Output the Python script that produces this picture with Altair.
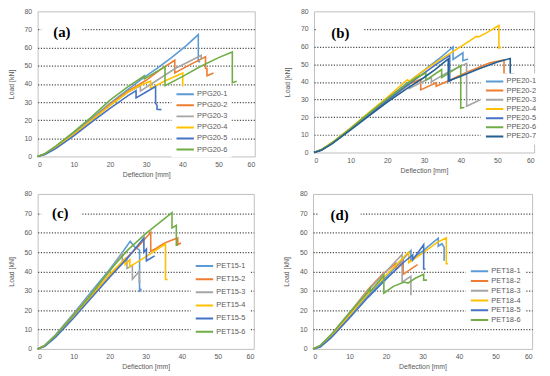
import altair as alt
import pandas as pd

FONT = "Liberation Sans"
LEG_FONT = "Liberation Sans Narrow, Liberation Sans"
COLORS = ["#5B9BD5", "#ED7D31", "#A5A5A5", "#FFC000", "#4472C4", "#70AD47", "#255E91"]
X_TICKS = [0, 10, 20, 30, 40, 50, 60]
Y_TICKS = [0, 10, 20, 30, 40, 50, 60, 70, 80]

# ---------------- Panel (a) ----------------
A_NAMES = ["PPG20-1", "PPG20-2", "PPG20-3", "PPG20-4", "PPG20-5", "PPG20-6"]
PPG20_1_x = [0, 2, 5, 10, 15, 20, 25, 29, 33, 37, 41, 44.4, 44.4, 44.9]
PPG20_1_y = [0, 1.4, 5.3, 12.8, 21, 29.3, 37, 43, 48.5, 54.5, 61, 67.2, 52.5, 52]
PPG20_2_x = [0, 2, 5, 10, 15, 20, 25, 30, 34, 37.9, 37.9, 42, 46.4, 46.4, 46.8, 46.8, 48.6]
PPG20_2_y = [0, 1.3, 5, 12.5, 20.5, 28.8, 36.2, 42, 48, 53, 46, 50.5, 55, 48.5, 48.5, 44.5, 46]
PPG20_3_x = [0, 2, 5, 10, 15, 20, 25, 28.4, 28.4, 33, 38, 42, 45.2, 45.2]
PPG20_3_y = [0, 1.3, 5, 12.3, 20.3, 28.3, 35.5, 39, 36, 42, 48.5, 52.5, 55.8, 53.5]
PPG20_4_x = [0, 2, 5, 10, 15, 20, 25, 28, 31.2, 31.2, 35, 40.1, 40.1]
PPG20_4_y = [0, 1.2, 4.8, 12, 20, 28, 35.5, 39, 41.5, 37.5, 41.5, 46, 37.5]
PPG20_5_x = [0, 2, 5, 10, 15, 20, 25, 27.2, 27.2, 30, 32.6, 32.6, 33, 33, 34.2]
PPG20_5_y = [0, 1, 4.3, 11.3, 19, 26.5, 33.5, 36.3, 32.3, 35.5, 38.5, 29.5, 28, 26, 25.8]
PPG20_6_x = [0, 2, 5, 10, 15, 20, 25, 29.5, 29.5, 35.2, 35.2, 40, 44.7, 50, 53.8, 53.8, 55]
PPG20_6_y = [0, 1.5, 5.7, 13.5, 22, 31, 38.5, 44.5, 42.8, 49.5, 39, 44, 49.3, 54.5, 57.6, 40.7, 41.5]

# ---------------- Panel (b) ----------------
B_NAMES = ["PPE20-1", "PPE20-2", "PPE20-3", "PPE20-4", "PPE20-5", "PPE20-6", "PPE20-7"]
PPE20_1_x = [0, 2, 5, 10, 15, 20, 25, 30, 34, 37.9, 37.9, 40.6, 40.6, 42]
PPE20_1_y = [0, 1.5, 5.5, 13.6, 22.2, 30.5, 38.8, 46.5, 53, 59.8, 52.7, 56.5, 52, 53]
PPE20_2_x = [0, 2, 5, 10, 15, 20, 25, 29.1, 29.1, 33.3, 33.3, 37, 41.5, 45, 48, 51.8, 51.8, 52.7]
PPE20_2_y = [0, 1.4, 5.4, 13.4, 21.8, 29.8, 38, 41.5, 35.5, 39.5, 37.5, 41, 45.3, 48.3, 50.8, 52.5, 44.3, 44.3]
PPE20_3_x = [0, 2, 5, 10, 15, 20, 24, 26, 26, 29, 32, 32, 36, 41.6, 41.6, 45.2]
PPE20_3_y = [0, 1.4, 5.3, 13.2, 21.3, 29, 35.5, 38.5, 36.3, 39.5, 42.5, 40, 45, 50.5, 26.2, 29.8]
PPE20_4_x = [0, 2, 5, 10, 15, 20, 25, 25.5, 26, 30, 35, 40, 44.3, 45, 47, 50.4, 50.4, 51]
PPE20_4_y = [0, 1.6, 5.8, 14, 22.8, 31.3, 40.5, 41.2, 40.3, 46.5, 53.5, 60, 65.8, 65.6, 67.8, 72, 59.2, 59.6]
PPE20_5_x = [0, 2, 5, 10, 15, 20, 25, 30, 33, 37, 37, 37.5]
PPE20_5_y = [0, 1.4, 5.3, 13.2, 21.5, 29.5, 37.5, 45, 49.5, 55, 40.5, 41]
PPE20_6_x = [0, 2, 5, 10, 15, 20, 25, 28, 30.5, 30.5, 34.8, 34.8, 40, 40, 41]
PPE20_6_y = [0, 1.5, 5.6, 13.7, 22.3, 30.5, 38.5, 42.5, 45, 41, 47, 42.5, 49.2, 25.2, 25.5]
PPE20_7_x = [0, 2, 5, 10, 15, 20, 25, 30, 33, 36.6, 36.6, 40, 45, 50, 53.5, 53.5, 54.6]
PPE20_7_y = [0, 1.2, 5, 12.8, 20.8, 28.5, 35.8, 42.5, 47, 53, 40.5, 43.2, 47.5, 51.3, 53.3, 44.3, 44.3]

# ---------------- Panel (c) ----------------
C_NAMES = ["PET15-1", "PET15-2", "PET15-3", "PET15-4", "PET15-5", "PET15-6"]
PET15_1_x = [0, 2, 5, 10, 15, 20, 23, 25.7, 27, 28.3, 28.3, 28.8]
PET15_1_y = [0, 1.8, 7.3, 18.3, 29.8, 41, 48.5, 55.5, 52.5, 51, 30, 31]
PET15_2_x = [0, 2, 5, 10, 15, 20, 25, 28, 31.4, 31.4, 33, 35, 37, 38.9, 38.9, 39.8]
PET15_2_y = [0, 1.6, 6.8, 17.3, 28, 38, 47.5, 53, 60.2, 50.5, 52, 54.5, 56, 57.3, 53.8, 54.7]
PET15_3_x = [0, 2, 5, 10, 15, 20, 23.5, 23.5, 24.8, 24.8, 26.3, 26.3, 28.2, 28.2, 28.6]
PET15_3_y = [0, 1.8, 7.2, 18, 29, 40, 49.5, 45.5, 47, 41.5, 43, 36, 40, 34.5, 35]
PET15_4_x = [0, 2, 5, 10, 15, 20, 24.3, 24.3, 25.6, 25.6, 30, 35.5, 35.5, 36.1]
PET15_4_y = [0, 1.6, 6.8, 17, 27.5, 38.5, 46.5, 43.5, 46, 42.5, 47.5, 54.3, 35.8, 35.8]
PET15_5_x = [0, 2, 5, 10, 15, 20, 25, 29.5, 29.5, 30.2, 30.2, 32.5]
PET15_5_y = [0, 1.3, 6, 16, 26.5, 37, 47, 57.3, 50, 51.5, 45.5, 48]
PET15_6_x = [0, 2, 5, 10, 15, 20, 25, 30, 34, 37.3, 37.3, 38.5, 38.5, 39]
PET15_6_y = [0, 1.7, 7, 17.5, 28.5, 40.5, 51, 59.5, 65.5, 70.4, 62.5, 63.8, 53.5, 53.8]

# ---------------- Panel (d) ----------------
D_NAMES = ["PET18-1", "PET18-2", "PET18-3", "PET18-4", "PET18-5", "PET18-6"]
PET18_1_x = [0, 2, 5, 10, 15, 20, 23.5, 26.8, 26.8, 30, 34.3, 34.3, 35.3, 35.9, 35.9]
PET18_1_y = [0, 1.3, 6.5, 17, 27.5, 37, 44, 50.8, 46, 50.5, 57.2, 53, 54.3, 52.5, 45.5]
PET18_2_x = [0, 2, 5, 10, 15, 19, 22.7, 22.7, 24.7, 24.7, 28.6]
PET18_2_y = [0, 1.6, 7.2, 18.5, 30.5, 38.5, 44.2, 41, 45.3, 38.5, 43.5]
PET18_3_x = [0, 2, 5, 10, 15, 20, 24.4, 24.4, 26.8, 26.8]
PET18_3_y = [0, 1.7, 7.5, 18.8, 30, 40, 48.8, 34.5, 37.5, 27.7]
PET18_4_x = [0, 2, 5, 10, 15, 20, 26.2, 26.2, 30, 34, 36.5, 36.5, 37]
PET18_4_y = [0, 1.4, 6.8, 17.5, 28.3, 38, 50, 44.5, 49.5, 55, 57.4, 44, 44]
PET18_5_x = [0, 2, 5, 10, 15, 20, 25, 27.3, 27.3, 30.3, 30.3, 30.8]
PET18_5_y = [0, 1, 5.8, 16, 26.5, 36, 45, 48.5, 46, 53.8, 41.3, 41.3]
PET18_6_x = [0, 2, 5, 10, 15, 15.7, 15.7, 17, 19.4, 19.4, 22, 25, 26, 28, 30.3, 30.3, 31.2]
PET18_6_y = [0, 1.8, 7.3, 18.5, 29.2, 31.5, 29.8, 32.5, 38, 28.8, 32.3, 34.5, 34, 36.5, 38.5, 35.5, 35.5]


def frame(names, xs, ys):
    rows = []
    for n, xv, yv in zip(names, xs, ys):
        for i, (a, b) in enumerate(zip(xv, yv)):
            rows.append({"series": n, "i": i, "x": a, "y": b})
    return pd.DataFrame(rows)


GRID_OP = {"condition": {"test": "datum.value == 0 || datum.value == 80", "value": 0}, "value": 1}


def panel(df, names, tag, tag_xy, box, leg, w, h):
    xs = alt.Scale(domain=[0, 60], nice=False)
    ys = alt.Scale(domain=[0, 80], nice=False)
    xax = alt.Axis(values=X_TICKS, title="Deflection [mm]", grid=False, labelOverlap=False)
    yax = alt.Axis(values=Y_TICKS, title="Load [kN]", grid=True, gridDash=[1.2, 1.6],
                   gridColor="#4d4d4d", gridWidth=1.2, gridOpacity=GRID_OP, labelOverlap=False)
    color = alt.Color(
        "series:N",
        scale=alt.Scale(domain=names, range=COLORS[: len(names)]),
        legend=alt.Legend(
            title=None, orient="none", legendX=leg[0], legendY=leg[1],
            fillColor="white", padding=4, symbolType="stroke", symbolSize=310,
            symbolStrokeWidth=2, clipHeight=8, rowPadding=leg[2],
            labelFontSize=7.5, labelColor="#595959", labelOffset=2, labelFont=LEG_FONT,
        ),
    )
    lines = alt.Chart(df).mark_line(strokeWidth=1.6).encode(
        x=alt.X("x:Q", scale=xs, axis=xax),
        y=alt.Y("y:Q", scale=ys, axis=yax),
        color=color,
        order="i:Q",
    )
    bdf = pd.DataFrame({"x": [box[0]], "x2": [box[1]], "y": [box[2]], "y2": [box[3]]})
    boxm = alt.Chart(bdf).mark_rect(fill="white").encode(
        x=alt.X("x:Q", scale=xs, axis=xax), x2="x2",
        y=alt.Y("y:Q", scale=ys, axis=yax), y2="y2",
    )
    tdf = pd.DataFrame({"x": [tag_xy[0]], "y": [tag_xy[1]], "t": [tag]})
    tagm = alt.Chart(tdf).mark_text(
        font="Liberation Serif", fontWeight="bold", fontSize=15, color="black",
        baseline="middle", align="center",
    ).encode(
        x=alt.X("x:Q", scale=xs, axis=xax),
        y=alt.Y("y:Q", scale=ys, axis=yax),
        text="t:N",
    )
    return alt.layer(lines, boxm, tagm).properties(width=w, height=h)


dfa = frame(A_NAMES, [PPG20_1_x, PPG20_2_x, PPG20_3_x, PPG20_4_x, PPG20_5_x, PPG20_6_x],
            [PPG20_1_y, PPG20_2_y, PPG20_3_y, PPG20_4_y, PPG20_5_y, PPG20_6_y])
dfb = frame(B_NAMES, [PPE20_1_x, PPE20_2_x, PPE20_3_x, PPE20_4_x, PPE20_5_x, PPE20_6_x, PPE20_7_x],
            [PPE20_1_y, PPE20_2_y, PPE20_3_y, PPE20_4_y, PPE20_5_y, PPE20_6_y, PPE20_7_y])
dfc = frame(C_NAMES, [PET15_1_x, PET15_2_x, PET15_3_x, PET15_4_x, PET15_5_x, PET15_6_x],
            [PET15_1_y, PET15_2_y, PET15_3_y, PET15_4_y, PET15_5_y, PET15_6_y])
dfd = frame(D_NAMES, [PET18_1_x, PET18_2_x, PET18_3_x, PET18_4_x, PET18_5_x, PET18_6_x],
            [PET18_1_y, PET18_2_y, PET18_3_y, PET18_4_y, PET18_5_y, PET18_6_y])

pa = panel(dfa, A_NAMES, "(a)", (6.7, 68.5), (1.0, 12.3, 65.5, 74), (135.5, 76, 3.2), 220, 147)
pb = panel(dfb, B_NAMES, "(b)", (7.2, 67.5), (0.6, 13.4, 65.5, 74), (169, 63, 1.3), 223, 143)
pc = panel(dfc, C_NAMES, "(c)", (6.3, 70), (1.0, 12, 65.5, 74), (155, 65, 5.3), 219, 157)
pd_ = panel(dfd, D_NAMES, "(d)", (7.3, 69.3), (1.6, 13, 65.5, 74), (154.7, 70.3, 1.9), 222, 157)

top = alt.hconcat(pa, pb, spacing=27).resolve_scale(color="independent", x="independent", y="independent").resolve_legend(color="independent")
bottom = alt.hconcat(pc, pd_, spacing=27).resolve_scale(color="independent", x="independent", y="independent").resolve_legend(color="independent")

chart = (
    alt.vconcat(top, bottom, spacing=11)
    .resolve_scale(color="independent", x="independent", y="independent")
    .resolve_legend(color="independent")
    .properties(padding={"left": -2, "top": -4, "right": 0, "bottom": 0}, background="white")
    .configure_axis(
        labelFont=FONT, titleFont=FONT, labelFontSize=7, titleFontSize=7,
        labelColor="#595959", titleColor="#595959", titleFontWeight="normal",
        ticks=False, domain=False,
    )
    .configure_axisX(labelPadding=4, titlePadding=3)
    .configure_axisY(labelPadding=6, titlePadding=10)
    .configure_view(stroke="#bfbfbf", strokeWidth=1)
)

chart.save("out.html", embed_options={"renderer": "svg", "actions": False})
